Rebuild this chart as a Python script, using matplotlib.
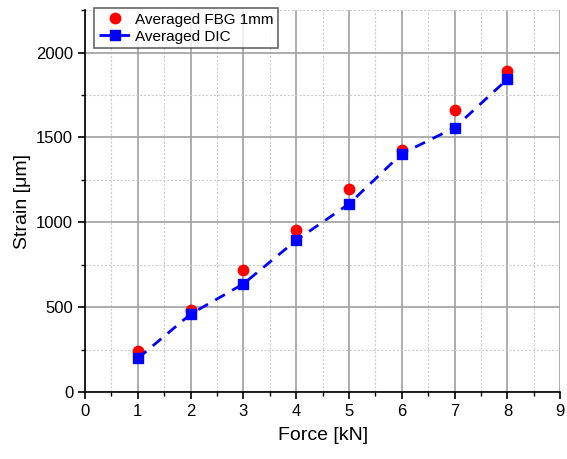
import matplotlib.pyplot as plt
import numpy as np
from matplotlib.ticker import MultipleLocator

plt.rcParams['font.family'] = ['Liberation Sans', 'DejaVu Sans']

force = [1, 2, 3, 4, 5, 6, 7, 8]
fbg_strain = [240, 482, 716, 955, 1198, 1427, 1659, 1894]
dic_strain = [198, 459, 637, 894, 1108, 1404, 1557, 1843]

fig = plt.figure(figsize=(5.67, 4.59), dpi=100)
ax = fig.add_axes([0.15, 0.146, 0.838, 0.832])

ax.plot(force, fbg_strain, 'o', color='red', markersize=7.5, label='Averaged FBG 1mm', zorder=3)
ax.plot(force, dic_strain, 's', color='blue', markersize=6.5, linestyle=(0, (4, 3)),
        linewidth=2, label='Averaged DIC', zorder=4)

ax.set_xlim(0, 9)
ax.set_ylim(0, 2250)
ax.xaxis.set_major_locator(MultipleLocator(1))
ax.xaxis.set_minor_locator(MultipleLocator(0.5))
ax.yaxis.set_major_locator(MultipleLocator(500))
ax.yaxis.set_minor_locator(MultipleLocator(250))

ax.grid(which='major', color='#a0a0a0', linestyle='-', linewidth=1.2)
ax.grid(which='minor', color='#cccccc', linestyle=(0, (2, 1.5)), linewidth=0.8)
ax.set_axisbelow(True)

ax.spines['top'].set_visible(False)
ax.spines['right'].set_visible(False)
ax.spines['left'].set_linewidth(1.2)
ax.spines['bottom'].set_linewidth(1.2)
ax.tick_params(which='major', direction='out', length=5, width=1.2, labelsize=12)
ax.tick_params(which='minor', direction='out', length=3, width=1.0)

ax.set_xlabel('Force [kN]', fontsize=14, labelpad=6)
ax.set_ylabel('Strain [μm]', fontsize=14)

leg = ax.legend(loc='upper left', bbox_to_anchor=(0.019, 1.005), fontsize=11, frameon=True,
                fancybox=False, edgecolor='#404040', borderpad=0.3, handlelength=2.1,
                handletextpad=0.3, labelspacing=0.2, borderaxespad=0)
leg.get_frame().set_linewidth(1.2)

fig.savefig('out.png', dpi=100)
